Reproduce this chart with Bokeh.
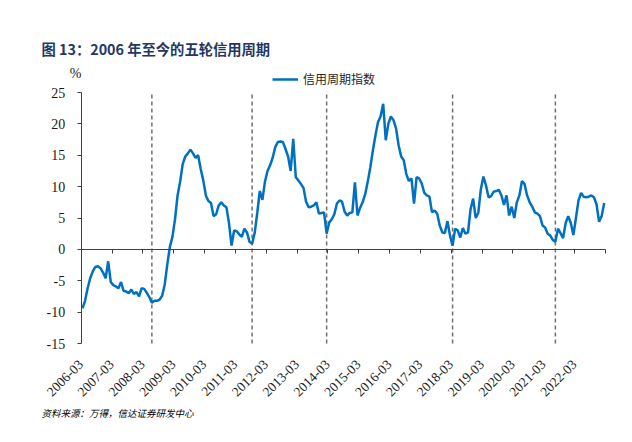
import math
import numpy as np
import pandas as pd
from bokeh.plotting import figure
from bokeh.models import (Range1d, FixedTicker, LinearAxis, Label,
                          Legend, LegendItem)
from bokeh.embed import file_html
from bokeh.resources import INLINE

# ---------------- data ----------------
start_month = "2006-03"
credit_cycle_index = [
    -9.4, -8.2, -6.2, -4.6, -3.5, -2.8, -2.7, -3.0, -3.7, -4.6, -1.9, -5.2,   # 2006-03..
    -5.7, -5.9, -6.2, -5.2, -6.6, -6.7, -7.0, -6.4, -7.1, -6.8, -7.5, -6.2,   # 2007-03..
    -6.3, -6.9, -7.6, -8.5, -8.2, -8.2, -8.0, -7.4, -5.6, -2.4, 0.4, 2.0,     # 2008-03..
    4.8, 8.6, 10.8, 13.6, 14.8, 15.3, 15.9, 15.3, 14.6, 15.0, 12.8, 11.0,     # 2009-03..
    8.6, 7.7, 7.4, 5.3, 5.6, 7.0, 7.5, 7.0, 6.7, 4.2, 0.6, 3.0,               # 2010-03..
    2.9, 2.4, 2.0, 3.3, 2.7, 1.2, 0.9, 2.6, 5.8, 9.3, 7.9, 10.8,              # 2011-03..
    12.5, 13.4, 14.6, 16.3, 17.1, 17.2, 17.1, 16.0, 14.8, 12.5, 17.6, 11.5,   # 2012-03..
    11.0, 10.4, 9.8, 7.6, 6.7, 6.8, 7.0, 7.5, 5.7, 5.8, 5.9, 2.5,             # 2013-03..
    4.3, 4.8, 5.6, 7.3, 7.8, 7.6, 6.0, 5.4, 5.8, 5.9, 10.7, 5.4,              # 2014-03..
    6.6, 7.5, 8.8, 10.8, 13.1, 15.8, 18.2, 20.3, 21.2, 23.2, 17.4, 20.0,      # 2015-03..
    21.2, 20.6, 19.3, 16.6, 14.8, 14.2, 12.0, 10.9, 11.3, 7.3, 11.5, 11.3,    # 2016-03..
    10.5, 9.0, 8.6, 8.4, 5.9, 6.2, 5.7, 3.8, 2.7, 2.6, 4.5, 2.2,              # 2017-03..
    0.6, 3.3, 3.0, 1.9, 3.4, 2.5, 2.7, 6.4, 8.1, 5.0, 5.8, 9.6,               # 2018-03..
    11.6, 10.2, 8.3, 8.5, 9.2, 9.3, 9.5, 8.6, 7.1, 8.6, 5.4, 6.8,             # 2019-03..
    5.0, 7.5, 8.6, 10.9, 10.4, 8.6, 7.5, 6.8, 5.9, 5.7, 5.3, 3.8,             # 2020-03..
    3.5, 2.5, 2.2, 1.5, 1.2, 3.3, 2.6, 1.8, 4.2, 5.3, 4.2, 2.3,               # 2021-03..
    5.0, 7.8, 9.0, 8.4, 8.3, 8.4, 8.6, 8.3, 7.2, 4.4, 5.3, 7.4,               # 2022-03..
]
cycle_troughs = ["2008-06", "2011-09", "2014-02", "2018-03", "2021-07"]
series_name = "信用周期指数"
title_text = "图 13：2006 年至今的五轮信用周期"
source_text = "资料来源：万得，信达证券研发中心"
unit_text = "%"
y_ticks = [-15, -10, -5, 0, 5, 10, 15, 20, 25]

# ---------------- geometry (pixels on the canvas) ----------------
FIG_W, FIG_H = 616, 426
AX_LEFT, AX_RIGHT = 80.7, 605.0      # pixel x of first / last category tick
AX_TOP, AX_BOTTOM = 92.0, 343.0      # pixel y of top / bottom y tick

months = pd.date_range(start_month + "-01", periods=len(credit_cycle_index), freq="MS")
n = len(months)
ymin, ymax = y_ticks[0], y_ticks[-1]
xs = (AX_RIGHT - AX_LEFT) / n
ys = (AX_BOTTOM - AX_TOP) / (ymax - ymin)
x_start, x_end = -AX_LEFT / xs, n + (FIG_W - AX_RIGHT) / xs
y_end, y_start = ymax + AX_TOP / ys, ymin - (FIG_H - AX_BOTTOM) / ys


def dx(px):
    return (px - AX_LEFT) / xs


def dy(py):
    return ymin + (AX_BOTTOM - py) / ys


xpos = np.arange(n) + 0.5  # points centred between category ticks
all_ticks = list(range(0, n + 1, 12))
label_ticks = all_ticks[:-1]
labels = {t: months[t].strftime("%Y-%m") for t in label_ticks}
month_strs = list(months.strftime("%Y-%m"))
trough_pos = [month_strs.index(m) + 0.5 for m in cycle_troughs]

serif = "Liberation Serif"
cjk = "Noto Sans CJK SC"
axis_col = "#404040"
text_col = "#1a1a1a"

p = figure(width=FIG_W, height=FIG_H, output_backend="svg", toolbar_location=None,
           x_range=Range1d(x_start, x_end), y_range=Range1d(y_start, y_end),
           x_axis_location=None, y_axis_location=None,
           min_border=0, min_border_left=0, min_border_right=0,
           min_border_top=0, min_border_bottom=0)
p.outline_line_color = None
p.grid.visible = False
p.background_fill_color = "white"
p.border_fill_color = "white"

# y axis at the first category
yax = LinearAxis(fixed_location=0, bounds=(ymin, ymax),
                 ticker=FixedTicker(ticks=y_ticks),
                 major_label_overrides={v: str(v) for v in y_ticks},
                 major_tick_in=0, major_tick_out=4, minor_tick_line_color=None,
                 axis_line_color=axis_col, major_tick_line_color=axis_col,
                 major_label_standoff=12, major_label_text_font=serif,
                 major_label_text_font_size="14px", major_label_text_color=text_col)
p.add_layout(yax, "left")

# horizontal axis crossing at zero, with ticks pointing down
zax = LinearAxis(fixed_location=0, bounds=(0, n),
                 ticker=FixedTicker(ticks=all_ticks),
                 major_label_overrides={t: "" for t in all_ticks},
                 major_tick_in=0, major_tick_out=4, minor_tick_line_color=None,
                 axis_line_color=axis_col, major_tick_line_color=axis_col)
p.add_layout(zax, "below")

# category labels under the plot area
lax = LinearAxis(fixed_location=ymin, ticker=FixedTicker(ticks=label_ticks),
                 major_label_overrides=labels,
                 axis_line_color=None, major_tick_line_color=None,
                 minor_tick_line_color=None,
                 major_label_orientation=math.pi / 4, major_label_standoff=13,
                 major_label_text_font=serif, major_label_text_font_size="13.5px",
                 major_label_text_color=text_col)
p.add_layout(lax, "below")

# dashed cycle markers
p.segment(x0=trough_pos, y0=[ymin] * len(trough_pos),
          x1=trough_pos, y1=[ymax] * len(trough_pos),
          line_color="#707070", line_dash="4 3", line_width=1.5)

r = p.line(xpos, credit_cycle_index, line_color="#0070C0", line_width=2.5)

legend = Legend(items=[LegendItem(label=series_name, renderers=[r])],
                location=(272, FIG_H - 87), orientation="horizontal",
                border_line_color=None, background_fill_alpha=0,
                padding=0, margin=0, spacing=0,
                glyph_width=26, glyph_height=12, label_standoff=5,
                label_text_font=cjk, label_text_font_size="12px",
                label_text_color="#262626")
p.add_layout(legend)

p.add_layout(Label(x=dx(41), y=dy(48), text=title_text, text_font=cjk,
                   text_font_style="bold", text_font_size="14.3px",
                   text_color="#1F3864", text_baseline="middle"))
p.add_layout(Label(x=dx(75), y=dy(73), text=unit_text, text_font=serif,
                   text_font_size="14px", text_color=text_col,
                   text_align="center", text_baseline="middle"))
p.add_layout(Label(x=dx(41), y=dy(412), text=source_text, text_font=cjk,
                   text_font_style="italic", text_font_size="9.5px",
                   text_color="#000000", text_baseline="middle"))

open("out.html", "w").write(file_html(p, INLINE))
